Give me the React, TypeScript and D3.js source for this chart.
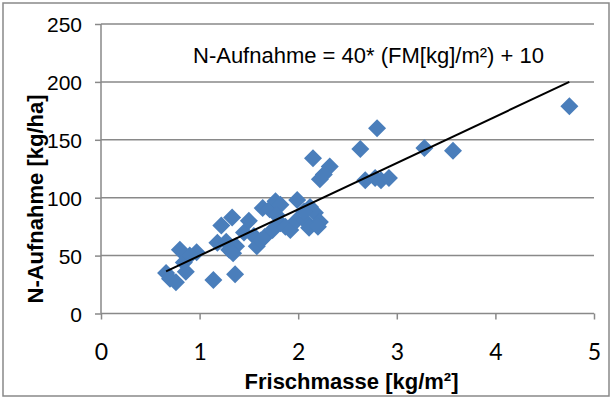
import { useEffect, useRef } from "react"
import * as d3 from "d3"

// Frischmasse [kg/m²]
const fmValues = [
  0.66, 0.7, 0.76, 0.8, 0.84, 0.86, 0.97, 0.9,
  1.14, 1.36,
  1.18, 1.22, 1.27, 1.33, 1.3, 1.37, 1.34,
  1.45, 1.5, 1.55, 1.58, 1.62, 1.66,
  1.64, 1.71, 1.77, 1.82, 1.99, 1.78,
  1.74, 1.82, 1.87, 1.92, 1.98,
  2.07, 2.12, 2.17, 2.22, 2.11, 2.2, 2.06,
  2.15, 2.32, 2.22, 2.26,
  2.63, 2.8, 3.28, 3.57, 4.75,
  2.68, 2.78, 2.84, 2.92,
]

// N-Aufnahme [kg/ha]
const nValues = [
  35, 30, 27, 55, 44, 36, 53, 50,
  29, 34,
  61, 76, 62, 83, 55, 58, 52,
  70, 80, 67, 58, 63, 66,
  91, 90, 97, 94, 98, 85,
  72, 78, 75, 72, 80,
  80, 92, 87, 79, 74, 75, 88,
  134, 127, 116, 120,
  142, 160, 143, 140.5, 179,
  115, 117, 115, 117,
]

const xTicks = [0, 1, 2, 3, 4, 5]
const yTicks = [0, 50, 100, 150, 200, 250]

// trendline: N = 40 * FM + 10
const slope = 40
const intercept = 10
const equationLabel = "N-Aufnahme = 40* (FM[kg]/m²) + 10"
const xTitle = "Frischmasse [kg/m²]"
const yTitle = "N-Aufnahme [kg/ha]"

export default function App() {
  const svgRef = useRef<SVGSVGElement>(null)

  useEffect(() => {
    if (!svgRef.current) return
    const width = 612
    const height = 398
    const margin = { top: 24, right: 18, bottom: 84.5, left: 101 }

    const root = d3.select(svgRef.current)
    root.selectAll("*").remove()
    root.attr("width", width).attr("height", height)

    const grey = "#898989"
    const arial = "'Liberation Sans', Arial, sans-serif"

    // outer chart border
    root
      .append("rect")
      .attr("x", 3)
      .attr("y", 3)
      .attr("width", 606)
      .attr("height", 393)
      .attr("fill", "#fff")
      .attr("stroke", grey)
      .attr("stroke-width", 1.5)

    const x = d3.scaleLinear().domain([0, 5]).range([margin.left, width - margin.right])
    const y = d3.scaleLinear().domain([0, 250]).range([height - margin.bottom, margin.top])

    // horizontal gridlines
    root
      .append("g")
      .selectAll("line")
      .data(yTicks.filter((d) => d > 0))
      .enter()
      .append("line")
      .attr("x1", x(0))
      .attr("x2", x(5))
      .attr("y1", (d) => y(d))
      .attr("y2", (d) => y(d))
      .attr("stroke", grey)
      .attr("stroke-width", 1.5)

    // Y axis
    const yAxis = root
      .append("g")
      .attr("transform", `translate(${x(0)},0)`)
      .call(d3.axisLeft(y).tickValues(yTicks).tickSize(6).tickPadding(13))
    yAxis.selectAll("path,line").attr("stroke", grey).attr("stroke-width", 1.5)
    yAxis.select(".domain").attr("d", `M0,${y(0)}V${y(250)}`)
    yAxis
      .selectAll("text")
      .attr("font-family", arial)
      .attr("font-size", 21)
      .attr("fill", "#000")
      .attr("dy", "0.36em")

    // X axis
    const xAxis = root
      .append("g")
      .attr("transform", `translate(0,${y(0)})`)
      .call(d3.axisBottom(x).tickValues(xTicks).tickSize(6).tickPadding(0).tickFormat(d3.format("d")))
    xAxis.selectAll("path,line").attr("stroke", grey).attr("stroke-width", 1.5)
    xAxis.select(".domain").attr("d", `M${x(0)},0H${x(5)}`)
    xAxis
      .selectAll("text")
      .attr("font-family", "Lato, sans-serif")
      .attr("font-size", 23)
      .attr("fill", "#000")
      .attr("dy", "0")
      .attr("y", 46)

    // data points as diamonds
    const points = fmValues.map((fm, i) => ({ fm, n: nValues[i] }))
    root
      .append("g")
      .selectAll("path")
      .data(points)
      .enter()
      .append("path")
      .attr("d", d3.symbol(d3.symbolSquare, 162)())
      .attr("transform", (d) => `translate(${x(d.fm)},${y(d.n)}) rotate(45)`)
      .attr("fill", "#4A7EBB")

    // trendline
    const [minX, maxX] = d3.extent(fmValues) as [number, number]
    root
      .append("line")
      .attr("x1", x(minX))
      .attr("y1", y(slope * minX + intercept))
      .attr("x2", x(maxX))
      .attr("y2", y(slope * maxX + intercept))
      .attr("stroke", "#000")
      .attr("stroke-width", 2)

    // equation
    root
      .append("text")
      .attr("x", 193)
      .attr("y", 63)
      .attr("font-family", arial)
      .attr("font-size", 22)
      .attr("fill", "#000")
      .text(equationLabel)

    // axis titles
    root
      .append("text")
      .attr("x", (x(0) + x(5)) / 2 + 4)
      .attr("y", 389)
      .attr("text-anchor", "middle")
      .attr("font-family", arial)
      .attr("font-weight", "bold")
      .attr("font-size", 22)
      .attr("fill", "#000")
      .text(xTitle)

    root
      .append("text")
      .attr("transform", "translate(43,199) rotate(-90)")
      .attr("text-anchor", "middle")
      .attr("font-family", arial)
      .attr("font-weight", "bold")
      .attr("font-size", 22)
      .attr("fill", "#000")
      .text(yTitle)
  }, [])

  return (
    <div style={{ position: "absolute", left: 0, top: 0 }}>
      <svg ref={svgRef} style={{ display: "block" }} />
    </div>
  )
}
